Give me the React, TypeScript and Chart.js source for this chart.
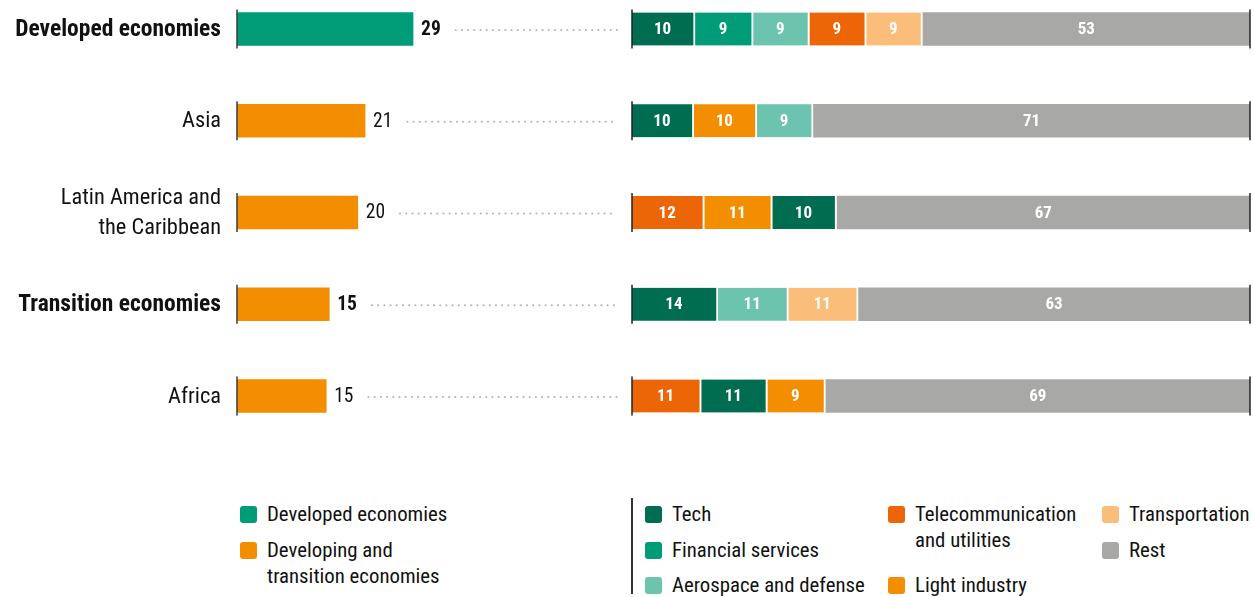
import React, { useEffect, useRef } from 'react';
import { Chart, registerables } from 'chart.js';

Chart.register(...registerables);

const FONT = '"Liberation Sans Narrow", "Arial Narrow", "Roboto Condensed", Roboto, sans-serif';

// ---- Data ----
const regionLabels: string[][] = [
  ['Developed economies'],
  ['Asia'],
  ['Latin America and', 'the Caribbean'],
  ['Transition economies'],
  ['Africa'],
];
const regionIsAggregate = [true, false, false, true, false];
const regionGroup = ['developed', 'developing', 'developing', 'developing', 'developing'];
const regionShare = [29, 21.1, 19.9, 15.2, 14.7];

const groupNames = ['Developed economies', 'Developing and\ntransition economies'];
const groupColors: Record<string, string> = { developed: '#009B77', developing: '#F28E00' };

const sectorNames = [
  'Tech',
  'Financial services',
  'Aerospace and defense',
  'Telecommunication\nand utilities',
  'Transportation',
  'Light industry',
  'Rest',
];
const sectorColors = ['#006D51', '#009B77', '#6CC3AE', '#EC6608', '#FBBD7A', '#F28E00', '#A8A8A6'];

// sector index per row, in stacking order
const rowSectorOrder = [
  [0, 1, 2, 3, 4, 6],
  [0, 5, 2, 6],
  [3, 5, 0, 6],
  [0, 2, 4, 6],
  [3, 0, 5, 6],
];
const rowSectorShare = [
  [10.2, 9.4, 9.1, 9.2, 9.1, 53.0],
  [10.0, 10.2, 9.1, 70.7],
  [11.7, 11.0, 10.4, 66.9],
  [13.9, 11.4, 11.3, 63.4],
  [11.2, 10.7, 9.4, 68.7],
];

const BAR_T = 33;

function LeftChart() {
  const ref = useRef<HTMLCanvasElement | null>(null);
  useEffect(() => {
    const plugin = {
      id: 'leftDeco',
      afterDatasetsDraw(chart: any) {
        const ctx = chart.ctx;
        const meta = chart.getDatasetMeta(0);
        const x0 = chart.scales.x.getPixelForValue(0);
        ctx.save();
        meta.data.forEach((el: any, i: number) => {
          const { x, y, height } = el.getProps(['x', 'y', 'height'], true);
          // axis segment
          ctx.strokeStyle = '#3a3a3a';
          ctx.lineWidth = 1.5;
          ctx.beginPath();
          ctx.moveTo(x0, y - height / 2 - 3);
          ctx.lineTo(x0, y + height / 2 + 3);
          ctx.stroke();
          // category label
          const bold = regionIsAggregate[i];
          ctx.font = bold ? `bold 23.5px ${FONT}` : `22.4px ${FONT}`;
          ctx.fillStyle = '#111';
          ctx.textAlign = 'right';
          ctx.textBaseline = 'middle';
          const lines = regionLabels[i];
          const lh = 30;
          lines.forEach((ln, li) => {
            const ly = y + 1 + (li - (lines.length - 1) / 2) * lh;
            ctx.fillText(ln, x0 - 16, ly);
          });
          // value label
          ctx.font = `${bold ? 'bold ' : ''}19.5px ${FONT}`;
          ctx.textAlign = 'left';
          const txt = String(Math.round(regionShare[i]));
          ctx.fillText(txt, x + 8, y + 1);
          const w = ctx.measureText(txt).width;
          let dx = x + 8 + w + 15;
          ctx.fillStyle = '#b5b5b5';
          while (dx <= chart.chartArea.right) {
            ctx.beginPath();
            ctx.arc(dx, y + 1, 1.1, 0, Math.PI * 2);
            ctx.fill();
            dx += 6.2;
          }
        });
        ctx.restore();
      },
    };
    const chart = new Chart(ref.current as HTMLCanvasElement, {
      type: 'bar',
      data: {
        labels: regionLabels.map((l) => l.join(' ')),
        datasets: [
          {
            data: regionShare,
            backgroundColor: regionGroup.map((g) => groupColors[g]),
            barThickness: BAR_T,
            borderWidth: 0,
          },
        ],
      },
      options: {
        indexAxis: 'y',
        animation: false,
        responsive: false,
        devicePixelRatio: 1,
        layout: { padding: { left: 237, right: 3, top: 3.1, bottom: 38.15 } },
        plugins: { legend: { display: false }, tooltip: { enabled: false } },
        scales: {
          x: { display: false, min: 0, max: 62.6 },
          y: { display: false },
        },
      } as any,
      plugins: [plugin],
    });
    return () => chart.destroy();
  }, []);
  return (
    <canvas
      ref={ref}
      width={620}
      height={500}
      style={{ position: 'absolute', left: 0, top: -20, width: 620, height: 500 }}
    />
  );
}

function RightChart() {
  const ref = useRef<HTMLCanvasElement | null>(null);
  useEffect(() => {
    const maxSlots = Math.max(...rowSectorOrder.map((r) => r.length));
    const isLast = (row: number, slot: number) => slot === rowSectorOrder[row].length - 1;
    const datasets = [];
    for (let k = 0; k < maxSlots; k++) {
      datasets.push({
        data: rowSectorShare.map((r) => (k < r.length ? r[k] : null)),
        backgroundColor: rowSectorOrder.map((r) => (k < r.length ? sectorColors[r[k]] : 'transparent')),
        borderColor: '#ffffff',
        borderSkipped: false,
        borderWidth: rowSectorOrder.map((r) => ({
          left: 0,
          top: 0,
          bottom: 0,
          right: k < r.length - 1 ? 2 : 0,
        })),
        barThickness: BAR_T,
      });
    }
    const plugin = {
      id: 'rightDeco',
      afterDatasetsDraw(chart: any) {
        const ctx = chart.ctx;
        const x0 = chart.scales.x.getPixelForValue(0);
        const x1 = chart.scales.x.getPixelForValue(100);
        ctx.save();
        ctx.font = `bold 17px ${FONT}`;
        ctx.fillStyle = '#ffffff';
        ctx.textAlign = 'center';
        ctx.textBaseline = 'middle';
        chart.data.datasets.forEach((ds: any, di: number) => {
          const meta = chart.getDatasetMeta(di);
          meta.data.forEach((el: any, i: number) => {
            const v = ds.data[i];
            if (v == null) return;
            const { x, y, base } = el.getProps(['x', 'y', 'base'], true);
            const right = isLast(i, di) ? x : x - 2;
            ctx.fillText(String(Math.round(v)), (base + right) / 2, y + 1);
          });
        });
        const meta0 = chart.getDatasetMeta(0);
        ctx.strokeStyle = '#222';
        ctx.lineWidth = 1.5;
        meta0.data.forEach((el: any) => {
          const { y, height } = el.getProps(['y', 'height'], true);
          [x0, x1].forEach((xx) => {
            ctx.beginPath();
            ctx.moveTo(xx, y - height / 2 - 3);
            ctx.lineTo(xx, y + height / 2 + 3);
            ctx.stroke();
          });
        });
        ctx.restore();
      },
    };
    const chart = new Chart(ref.current as HTMLCanvasElement, {
      type: 'bar',
      data: { labels: regionLabels.map((l) => l.join(' ')), datasets: datasets as any },
      options: {
        indexAxis: 'y',
        animation: false,
        responsive: false,
        devicePixelRatio: 1,
        layout: { padding: { left: 12, right: 4, top: 3.1, bottom: 38.15 } },
        plugins: { legend: { display: false }, tooltip: { enabled: false } },
        scales: {
          x: { display: false, stacked: true, min: 0, max: 100 },
          y: { display: false, stacked: true },
        },
      } as any,
      plugins: [plugin],
    });
    return () => chart.destroy();
  }, []);
  return (
    <canvas
      ref={ref}
      width={634}
      height={500}
      style={{ position: 'absolute', left: 620, top: -20, width: 634, height: 500 }}
    />
  );
}

function LegendItem({ left, top, color, label }: { left: number; top: number; color: string; label: string }) {
  return (
    <div style={{ position: 'absolute', left, top, display: 'flex', alignItems: 'flex-start' }}>
      <div
        style={{
          width: 17,
          height: 17,
          borderRadius: 3,
          background: color,
          marginTop: 4.5,
          flex: '0 0 auto',
        }}
      />
      <div
        style={{
          marginLeft: 10,
          fontFamily: FONT,
          fontSize: 20.8,
          lineHeight: '26px',
          color: '#111',
          whiteSpace: 'pre',
        }}
      >
        {label}
      </div>
    </div>
  );
}

export default function App() {
  const sectorPos: [number, number][] = [
    [645, 501],
    [645, 537],
    [645, 572],
    [888, 501],
    [1102, 501],
    [888, 572],
    [1102, 537],
  ];
  return (
    <div
      style={{
        position: 'fixed',
        left: 0,
        top: 0,
        width: 1254,
        height: 597,
        background: '#fff',
        overflow: 'hidden',
      }}
    >
      <LeftChart />
      <RightChart />
      <LegendItem left={240} top={501} color={groupColors.developed} label={groupNames[0]} />
      <LegendItem left={240} top={537} color={groupColors.developing} label={groupNames[1]} />
      <div style={{ position: 'absolute', left: 631, top: 498, width: 1.5, height: 96, background: '#333' }} />
      {sectorNames.map((n, i) => (
        <LegendItem key={n} left={sectorPos[i][0]} top={sectorPos[i][1]} color={sectorColors[i]} label={n} />
      ))}
    </div>
  );
}
